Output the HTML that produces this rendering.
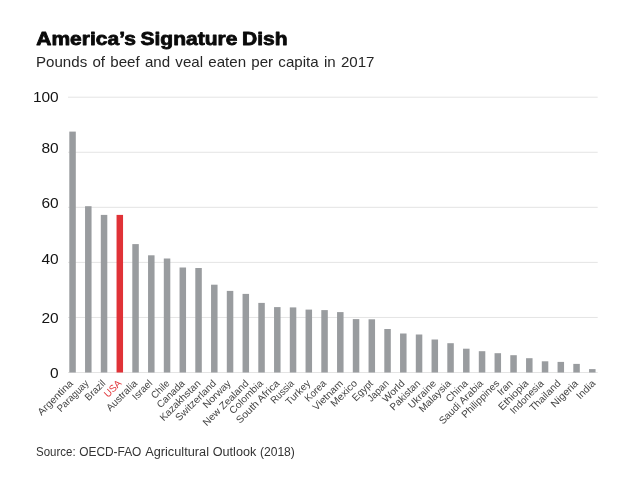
<!DOCTYPE html>
<html lang="en"><head><meta charset="utf-8"><title>America's Signature Dish</title>
<style>
html,body{margin:0;padding:0;background:#fff;}
body{width:642px;height:483px;overflow:hidden;}
svg{display:block;}
text{font-family:"Liberation Sans","DejaVu Sans",sans-serif;fill:#222;}
.title{font-weight:bold;font-size:18.2px;fill:#0a0a0a;stroke:#0a0a0a;stroke-width:0.8px;stroke-linejoin:round;word-spacing:-1px;}
.sub{font-size:14.5px;fill:#262626;word-spacing:1px;}
.yl{font-size:14.2px;text-anchor:end;fill:#141414;}
.xl{font-size:10px;text-anchor:end;fill:#444;}
.src{font-size:12px;fill:#333;}
</style></head><body>
<svg width="642" height="483" viewBox="0 0 642 483">
<rect width="642" height="483" fill="#fff"/>
<text class="title" x="36.3" y="44.9" textLength="251.2" lengthAdjust="spacingAndGlyphs">America’s Signature Dish</text>
<text class="sub" x="36" y="67.4" textLength="338.5" lengthAdjust="spacingAndGlyphs">Pounds of beef and veal eaten per capita in 2017</text>
<rect x="68" y="96.70" width="529.70" height="1" fill="#e4e4e4"/>
<text class="yl" transform="translate(58.7,102.45) scale(1.09,1)">100</text>
<rect x="68" y="151.76" width="529.70" height="1" fill="#e4e4e4"/>
<text class="yl" transform="translate(58.7,153.21) scale(1.09,1)">80</text>
<rect x="68" y="206.82" width="529.70" height="1" fill="#e4e4e4"/>
<text class="yl" transform="translate(58.7,208.27) scale(1.09,1)">60</text>
<rect x="68" y="261.88" width="529.70" height="1" fill="#e4e4e4"/>
<text class="yl" transform="translate(58.7,263.53) scale(1.09,1)">40</text>
<rect x="68" y="316.94" width="529.70" height="1" fill="#e4e4e4"/>
<text class="yl" transform="translate(58.7,322.99) scale(1.09,1)">20</text>
<rect x="68" y="372.00" width="529.70" height="1" fill="#e4e4e4"/>
<text class="yl" transform="translate(58.7,377.95) scale(1.09,1)">0</text>
<rect x="69.30" y="131.60" width="6.5" height="240.90" fill="#999c9f"/>
<rect x="85.05" y="206.20" width="6.5" height="166.30" fill="#999c9f"/>
<rect x="100.80" y="214.90" width="6.5" height="157.60" fill="#999c9f"/>
<rect x="116.55" y="214.90" width="6.5" height="157.60" fill="#e03237"/>
<rect x="132.30" y="244.10" width="6.5" height="128.40" fill="#999c9f"/>
<rect x="148.05" y="255.30" width="6.5" height="117.20" fill="#999c9f"/>
<rect x="163.80" y="258.50" width="6.5" height="114.00" fill="#999c9f"/>
<rect x="179.55" y="267.50" width="6.5" height="105.00" fill="#999c9f"/>
<rect x="195.30" y="268.00" width="6.5" height="104.50" fill="#999c9f"/>
<rect x="211.05" y="284.70" width="6.5" height="87.80" fill="#999c9f"/>
<rect x="226.80" y="290.90" width="6.5" height="81.60" fill="#999c9f"/>
<rect x="242.55" y="293.90" width="6.5" height="78.60" fill="#999c9f"/>
<rect x="258.30" y="302.90" width="6.5" height="69.60" fill="#999c9f"/>
<rect x="274.05" y="307.10" width="6.5" height="65.40" fill="#999c9f"/>
<rect x="289.80" y="307.40" width="6.5" height="65.10" fill="#999c9f"/>
<rect x="305.55" y="309.60" width="6.5" height="62.90" fill="#999c9f"/>
<rect x="321.30" y="310.10" width="6.5" height="62.40" fill="#999c9f"/>
<rect x="337.05" y="312.10" width="6.5" height="60.40" fill="#999c9f"/>
<rect x="352.80" y="319.10" width="6.5" height="53.40" fill="#999c9f"/>
<rect x="368.55" y="319.30" width="6.5" height="53.20" fill="#999c9f"/>
<rect x="384.30" y="329.00" width="6.5" height="43.50" fill="#999c9f"/>
<rect x="400.05" y="333.50" width="6.5" height="39.00" fill="#999c9f"/>
<rect x="415.80" y="334.50" width="6.5" height="38.00" fill="#999c9f"/>
<rect x="431.55" y="339.50" width="6.5" height="33.00" fill="#999c9f"/>
<rect x="447.30" y="343.20" width="6.5" height="29.30" fill="#999c9f"/>
<rect x="463.05" y="348.70" width="6.5" height="23.80" fill="#999c9f"/>
<rect x="478.80" y="351.20" width="6.5" height="21.30" fill="#999c9f"/>
<rect x="494.55" y="353.20" width="6.5" height="19.30" fill="#999c9f"/>
<rect x="510.30" y="355.20" width="6.5" height="17.30" fill="#999c9f"/>
<rect x="526.05" y="358.20" width="6.5" height="14.30" fill="#999c9f"/>
<rect x="541.80" y="361.30" width="6.5" height="11.20" fill="#999c9f"/>
<rect x="557.55" y="361.90" width="6.5" height="10.60" fill="#999c9f"/>
<rect x="573.30" y="363.90" width="6.5" height="8.60" fill="#999c9f"/>
<rect x="589.05" y="369.10" width="6.5" height="3.40" fill="#999c9f"/>
<text class="xl" transform="translate(73.55,384.00) rotate(-45)" textLength="45.3" lengthAdjust="spacingAndGlyphs">Argentina</text>
<text class="xl" transform="translate(89.34,384.00) rotate(-45)" textLength="40.2" lengthAdjust="spacingAndGlyphs">Paraguay</text>
<text class="xl" transform="translate(106.04,384.00) rotate(-45)" textLength="24.3" lengthAdjust="spacingAndGlyphs">Brazil</text>
<text class="xl" transform="translate(122.14,384.00) rotate(-45)" textLength="19.9" lengthAdjust="spacingAndGlyphs" style="fill:#e03237">USA</text>
<text class="xl" transform="translate(137.93,384.00) rotate(-45)" textLength="39.2" lengthAdjust="spacingAndGlyphs">Australia</text>
<text class="xl" transform="translate(152.93,384.00) rotate(-45)" textLength="23.6" lengthAdjust="spacingAndGlyphs">Israel</text>
<text class="xl" transform="translate(170.22,384.00) rotate(-45)" textLength="21.5" lengthAdjust="spacingAndGlyphs">Chile</text>
<text class="xl" transform="translate(185.31,384.00) rotate(-45)" textLength="34.7" lengthAdjust="spacingAndGlyphs">Canada</text>
<text class="xl" transform="translate(201.11,384.00) rotate(-45)" textLength="52.9" lengthAdjust="spacingAndGlyphs">Kazakhstan</text>
<text class="xl" transform="translate(216.91,384.00) rotate(-45)" textLength="53.1" lengthAdjust="spacingAndGlyphs">Switzerland</text>
<text class="xl" transform="translate(231.50,384.00) rotate(-45)" textLength="35.1" lengthAdjust="spacingAndGlyphs">Norway</text>
<text class="xl" transform="translate(249.30,384.00) rotate(-45)" textLength="60.1" lengthAdjust="spacingAndGlyphs">New Zealand</text>
<text class="xl" transform="translate(263.69,384.00) rotate(-45)" textLength="43.0" lengthAdjust="spacingAndGlyphs">Colombia</text>
<text class="xl" transform="translate(280.08,384.00) rotate(-45)" textLength="56.7" lengthAdjust="spacingAndGlyphs">South Africa</text>
<text class="xl" transform="translate(294.68,384.00) rotate(-45)" textLength="28.5" lengthAdjust="spacingAndGlyphs">Russia</text>
<text class="xl" transform="translate(311.08,384.00) rotate(-45)" textLength="30.7" lengthAdjust="spacingAndGlyphs">Turkey</text>
<text class="xl" transform="translate(326.87,384.00) rotate(-45)" textLength="25.9" lengthAdjust="spacingAndGlyphs">Korea</text>
<text class="xl" transform="translate(343.56,384.00) rotate(-45)" textLength="38.2" lengthAdjust="spacingAndGlyphs">Vietnam</text>
<text class="xl" transform="translate(357.86,384.00) rotate(-45)" textLength="33.0" lengthAdjust="spacingAndGlyphs">Mexico</text>
<text class="xl" transform="translate(373.66,384.00) rotate(-45)" textLength="25.0" lengthAdjust="spacingAndGlyphs">Egypt</text>
<text class="xl" transform="translate(389.45,384.00) rotate(-45)" textLength="25.9" lengthAdjust="spacingAndGlyphs">Japan</text>
<text class="xl" transform="translate(405.25,384.00) rotate(-45)" textLength="27.0" lengthAdjust="spacingAndGlyphs">World</text>
<text class="xl" transform="translate(420.84,384.00) rotate(-45)" textLength="38.3" lengthAdjust="spacingAndGlyphs">Pakistan</text>
<text class="xl" transform="translate(436.84,384.00) rotate(-45)" textLength="35.2" lengthAdjust="spacingAndGlyphs">Ukraine</text>
<text class="xl" transform="translate(451.43,384.00) rotate(-45)" textLength="40.6" lengthAdjust="spacingAndGlyphs">Malaysia</text>
<text class="xl" transform="translate(468.43,384.00) rotate(-45)" textLength="26.5" lengthAdjust="spacingAndGlyphs">China</text>
<text class="xl" transform="translate(483.82,384.00) rotate(-45)" textLength="57.8" lengthAdjust="spacingAndGlyphs">Saudi Arabia</text>
<text class="xl" transform="translate(500.01,384.00) rotate(-45)" textLength="48.9" lengthAdjust="spacingAndGlyphs">Philippines</text>
<text class="xl" transform="translate(513.31,384.00) rotate(-45)" textLength="17.1" lengthAdjust="spacingAndGlyphs">Iran</text>
<text class="xl" transform="translate(529.10,384.00) rotate(-45)" textLength="37.8" lengthAdjust="spacingAndGlyphs">Ethiopia</text>
<text class="xl" transform="translate(544.30,384.00) rotate(-45)" textLength="43.0" lengthAdjust="spacingAndGlyphs">Indonesia</text>
<text class="xl" transform="translate(561.29,384.00) rotate(-45)" textLength="39.4" lengthAdjust="spacingAndGlyphs">Thailand</text>
<text class="xl" transform="translate(578.79,384.00) rotate(-45)" textLength="33.9" lengthAdjust="spacingAndGlyphs">Nigeria</text>
<text class="xl" transform="translate(595.99,384.00) rotate(-45)" textLength="22.4" lengthAdjust="spacingAndGlyphs">India</text>
<text class="src" y="456.3"><tspan x="36.0" textLength="39.6" lengthAdjust="spacingAndGlyphs">Source:</tspan> <tspan x="79.2" textLength="62.2" lengthAdjust="spacingAndGlyphs">OECD-FAO</tspan> <tspan x="145.2" textLength="63.8" lengthAdjust="spacingAndGlyphs">Agricultural</tspan> <tspan x="212.7" textLength="43.6" lengthAdjust="spacingAndGlyphs">Outlook</tspan> <tspan x="259.9" textLength="35.0" lengthAdjust="spacingAndGlyphs">(2018)</tspan></text>
</svg></body></html>
